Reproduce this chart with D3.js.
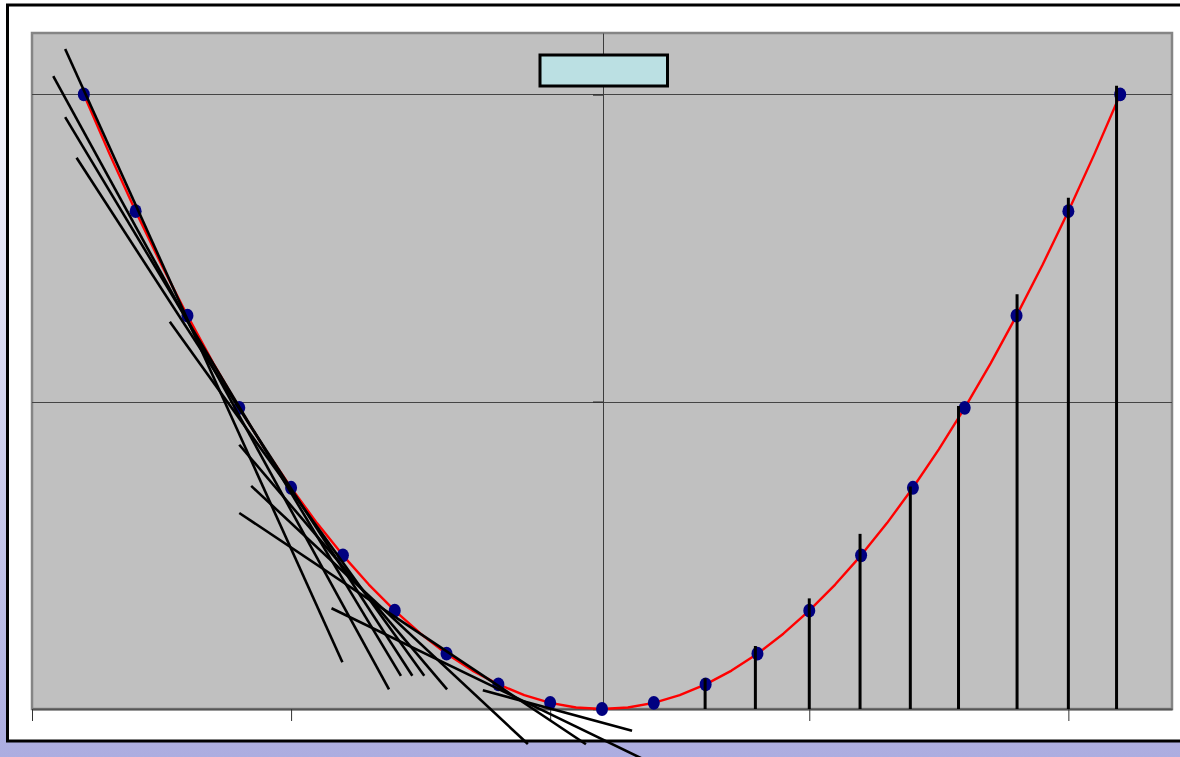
<!DOCTYPE html>
<html>
<head>
<meta charset="utf-8">
<script src="https://cdn.jsdelivr.net/npm/d3@7"></script>
<style>
  html, body { margin: 0; padding: 0; background: #ffffff; }
  svg { display: block; }
</style>
</head>
<body>
<svg id="chart" width="1180" height="757"></svg>
<script>
// Sample points of y = x²
const pointX = [-10,-9,-8,-7,-6,-5,-4,-3,-2,-1,0,1,2,3,4,5,6,7,8,9,10];
const pointY = [100,81,64,49,36,25,16,9,4,1,0,1,4,9,16,25,36,49,64,81,100];

// Finer polyline of the curve (half-unit steps)
const curveX = [-10,-9.5,-9,-8.5,-8,-7.5,-7,-6.5,-6,-5.5,-5,-4.5,-4,-3.5,-3,-2.5,-2,-1.5,-1,-0.5,
                0,0.5,1,1.5,2,2.5,3,3.5,4,4.5,5,5.5,6,6.5,7,7.5,8,8.5,9,9.5,10];
const curveY = [100,90.25,81,72.25,64,56.25,49,42.25,36,30.25,25,20.25,16,12.25,9,6.25,4,2.25,1,0.25,
                0,0.25,1,2.25,4,6.25,9,12.25,16,20.25,25,30.25,36,42.25,49,56.25,64,72.25,81,90.25,100];

// Tangent segments drawn on the falling branch (endpoints in data units)
const tanX1 = [-10.36,-10.59,-10.36,-10.14,-8.34,-7.00,-6.77,-7.00,-5.22,-2.30];
const tanY1 = [107.4, 103.0, 96.3, 89.7, 63.0, 43.0, 36.3, 31.9, 16.4, 3.04];
const tanX2 = [-5.01,-4.11,-3.88,-3.66,-3.43,-2.99,-1.43,-0.31,0.83,0.58];
const tanY2 = [7.6, 3.2, 5.4, 5.4, 5.4, 3.2, -5.7, -5.74, -8.3, -3.53];

// Vertical drop lines on the rising branch
const dropX = [1.99,2.96,4.00,4.98,5.95,6.88,8.01,9.00,9.93];
const dropTop = [5.0,10.25,18.0,28.5,36.2,49.3,67.5,83.2,101.4];

// Axis settings
const xDomain = [-11, 11];
const yDomain = [0, 110];
const xTickValues = [-11, -6, -1, 4, 9];
const yTickValues = [0, 50, 100];

const svg = d3.select("#chart");
const W = 1180, H = 757;

// Page background: vertical gradient
const defs = svg.append("defs");
const grad = defs.append("linearGradient").attr("id", "bg").attr("x1", 0).attr("y1", 0).attr("x2", 0).attr("y2", 1);
grad.append("stop").attr("offset", "0%").attr("stop-color", "#ffffff");
grad.append("stop").attr("offset", "100%").attr("stop-color", "#acade0");
svg.append("rect").attr("width", W).attr("height", H).attr("fill", "url(#bg)");

// Chart area
svg.append("rect")
  .attr("x", 7.5).attr("y", 5).attr("width", 1180).attr("height", 736)
  .attr("fill", "#ffffff").attr("stroke", "#000000").attr("stroke-width", 3);

const plot = { left: 32, right: 1172, top: 33, bottom: 709 };
const x = d3.scaleLinear().domain(xDomain).range([plot.left, plot.right]);
const y = d3.scaleLinear().domain(yDomain).range([plot.bottom, plot.top]);

// Plot area
svg.append("rect")
  .attr("x", plot.left).attr("y", plot.top)
  .attr("width", plot.right - plot.left).attr("height", plot.bottom - plot.top)
  .attr("fill", "#c0c0c0").attr("stroke", "#858585").attr("stroke-width", 2.5);

// Horizontal gridlines
svg.append("g").selectAll("line").data(yTickValues.filter(v => v > 0)).join("line")
  .attr("x1", plot.left).attr("x2", plot.right)
  .attr("y1", d => Math.round(y(d)) + 0.5).attr("y2", d => Math.round(y(d)) + 0.5)
  .attr("stroke", "#444444").attr("stroke-width", 1);

// X axis at the bottom
const xAxis = svg.append("g")
  .attr("transform", `translate(0,${plot.bottom})`)
  .call(d3.axisBottom(x).tickValues(xTickValues).tickSize(12).tickSizeOuter(0).tickFormat(""));
xAxis.select(".domain").attr("stroke", "#555555").attr("stroke-width", 2);
xAxis.selectAll(".tick line").attr("stroke", "#333333").attr("stroke-width", 1);

// Y axis crossing at x = 0
const yAxis = svg.append("g")
  .attr("transform", `translate(${Math.round(x(0)) + 1},0)`)
  .call(d3.axisLeft(y).tickValues(yTickValues).tickSize(10).tickSizeOuter(0).tickFormat(""));
yAxis.select(".domain").attr("stroke", "#3c3c3c").attr("stroke-width", 1);
yAxis.selectAll(".tick line").attr("stroke", "#333333").attr("stroke-width", 1.5);

// Curve
const line = d3.line().x(d => x(d[0])).y(d => y(d[1]));
svg.append("path")
  .datum(curveX.map((v, i) => [v, curveY[i]]))
  .attr("d", line)
  .attr("fill", "none").attr("stroke", "#ff0000").attr("stroke-width", 2.4)
  .attr("stroke-linejoin", "round");

// Points
svg.append("g").selectAll("ellipse").data(pointX.map((v, i) => [v, pointY[i]])).join("ellipse")
  .attr("cx", d => x(d[0])).attr("cy", d => y(d[1]))
  .attr("rx", 6).attr("ry", 6.9)
  .attr("fill", "#000080");

// Tangent segments
svg.append("g").selectAll("line").data(tanX1.map((v, i) => i)).join("line")
  .attr("x1", i => x(tanX1[i])).attr("y1", i => y(tanY1[i]))
  .attr("x2", i => x(tanX2[i])).attr("y2", i => y(tanY2[i]))
  .attr("stroke", "#000000").attr("stroke-width", 2.6);

// Drop lines
svg.append("g").selectAll("line").data(dropX.map((v, i) => i)).join("line")
  .attr("x1", i => x(dropX[i])).attr("x2", i => x(dropX[i]))
  .attr("y1", i => y(dropTop[i])).attr("y2", y(0))
  .attr("stroke", "#000000").attr("stroke-width", 3);

// Legend box
svg.append("rect")
  .attr("x", 540).attr("y", 55).attr("width", 127.5).attr("height", 31)
  .attr("fill", "#bbe0e3").attr("stroke", "#000000").attr("stroke-width", 3);
</script>
</body>
</html>
